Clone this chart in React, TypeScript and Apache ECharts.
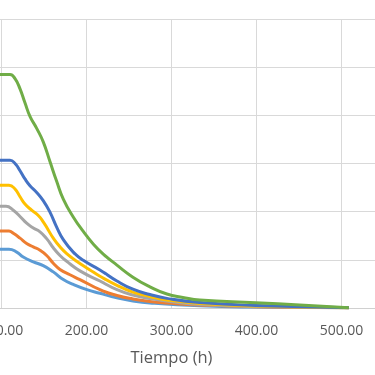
import React, { useEffect, useRef } from "react";
import * as echarts from "echarts";

// Tiempo (h) vs value, six series
const lightBlueData: [number, number][] = [
  [0, 12.2], [98, 12.2], [108.8, 12.2], [117.9, 11.6], [125.6, 10.6], [137.4, 9.6], [149.1, 8.8],
  [160.9, 7.5], [172.7, 5.9], [184.4, 4.9], [200.5, 3.8], [215.8, 3.05], [235.8, 2.1],
  [254.6, 1.45], [274.6, 1.04], [333.4, 0.46], [399.2, 0.2], [508.6, 0.06],
];
const orangeData: [number, number][] = [
  [0, 16.0], [98, 16.0], [108.8, 16.0], [113.9, 15.5], [121.8, 14.5], [129.6, 13.4], [137.4, 12.7],
  [145.3, 12.0], [153.1, 10.9], [160.9, 9.3], [168.8, 8.0], [180.5, 6.9], [192.3, 5.9],
  [215.8, 3.8], [235.8, 2.6], [254.6, 1.87], [274.6, 1.35], [294.6, 1.04], [333.4, 0.62],
  [399.2, 0.25], [508.6, 0.06],
];
const grayData: [number, number][] = [
  [0, 21.1], [98, 21.1], [105.3, 21.1], [113.9, 20.3], [121.8, 19.0], [129.6, 17.6], [137.4, 16.6],
  [145.3, 15.8], [153.1, 14.4], [160.9, 12.5], [168.8, 10.9], [176.7, 9.7], [192.3, 7.7], [215.8, 5.6],
  [235.8, 3.8], [254.6, 2.7], [274.6, 1.97], [294.6, 1.45], [333.4, 0.73], [399.2, 0.31], [508.6, 0.06],
];
const yellowData: [number, number][] = [
  [0, 25.5], [98, 25.5], [108.8, 25.5], [115.9, 24.7], [121.8, 23.1], [127.6, 21.6], [135.5, 20.3],
  [143.3, 19.2], [149.1, 17.9], [155.0, 16.2], [160.9, 14.5], [168.8, 12.7], [176.7, 11.3],
  [188.4, 9.7], [204.1, 7.9], [215.8, 6.6], [235.8, 4.7], [254.6, 3.3], [274.6, 2.4], [294.6, 1.66],
  [333.4, 0.93], [399.2, 0.42], [508.6, 0.06],
];
const blueData: [number, number][] = [
  [0, 30.7], [98, 30.7], [110, 30.7], [115.9, 30.0], [121.8, 28.5], [127.6, 26.8], [133.5, 25.4],
  [141.4, 24.0], [149.1, 22.3], [157.0, 19.9], [164.9, 16.8],
  [172.7, 14.2], [184.4, 11.6], [196.2, 9.9], [215.8, 7.9], [235.8, 5.6],
  [254.6, 3.9], [274.6, 2.8], [294.6, 2.0], [333.4, 1.14], [399.2, 0.52], [508.6, 0.06],
];
const greenData: [number, number][] = [
  [0, 48.5], [98, 48.5], [110, 48.5], [115.9, 47.6], [121.8, 45.5], [127.6, 42.6],
  [133.5, 39.8], [141.4, 37.3], [149.1, 34.5], [157.0, 30.4],
  [164.9, 26.3], [172.7, 22.6], [184.4, 18.9],
  [196.2, 15.9], [207.9, 13.3], [219.7, 11.2], [235.8, 8.9], [254.6, 6.4],
  [274.6, 4.4], [294.6, 2.9], [313.4, 2.2], [333.4, 1.66], [399.2, 1.1], [450.9, 0.62], [508.6, 0.06],
];

const seriesList = [
  { name: "S5", color: "#5B9BD5", data: lightBlueData },
  { name: "S2", color: "#ED7D31", data: orangeData },
  { name: "S3", color: "#A5A5A5", data: grayData },
  { name: "S4", color: "#FFC000", data: yellowData },
  { name: "S1", color: "#4472C4", data: blueData },
  { name: "S6", color: "#70AD47", data: greenData },
];

const xTitle = "Tiempo (h)";
const xMin = 0;
const xMax = 600;

export default function App() {
  const ref = useRef<HTMLDivElement>(null);
  useEffect(() => {
    if (!ref.current) return;
    const chart = echarts.init(ref.current, undefined, { renderer: "svg" });
    chart.setOption({
      animation: false,
      grid: { left: 66.5, right: 73.5, top: 19, bottom: 67 },
      xAxis: {
        type: "value",
        min: xMin,
        max: xMax,
        interval: 100,
        name: xTitle,
        nameLocation: "middle",
        nameGap: 40,
        nameTextStyle: { color: "#595959", fontSize: 16.5, fontFamily: "Open Sans" },
        axisLine: { show: true, lineStyle: { color: "#d0d0d0", width: 1 } },
        axisTick: { show: false },
        axisLabel: {
          color: "#595959",
          fontSize: 14,
          fontFamily: "Open Sans",
          margin: 14,
          formatter: (v: number) => (v === xMin || v === xMax ? "" : v.toFixed(2)),
        },
        splitLine: { show: true, lineStyle: { color: "#d9d9d9", width: 1 } },
      },
      yAxis: {
        type: "value",
        min: 0,
        max: 60,
        interval: 10,
        axisLine: { show: false },
        axisTick: { show: false },
        axisLabel: { show: false },
        splitLine: { show: true, lineStyle: { color: "#d9d9d9", width: 1 } },
      },
      series: seriesList.map((s) => ({
        name: s.name,
        type: "line",
        data: s.data,
        showSymbol: false,
        smooth: 0.5,
        lineStyle: { color: s.color, width: 3 },
        itemStyle: { color: s.color },
      })),
    });
    return () => chart.dispose();
  }, []);
  return (
    <div
      ref={ref}
      style={{ position: "fixed", left: -150, top: 0, width: 650, height: 375 }}
    />
  );
}
